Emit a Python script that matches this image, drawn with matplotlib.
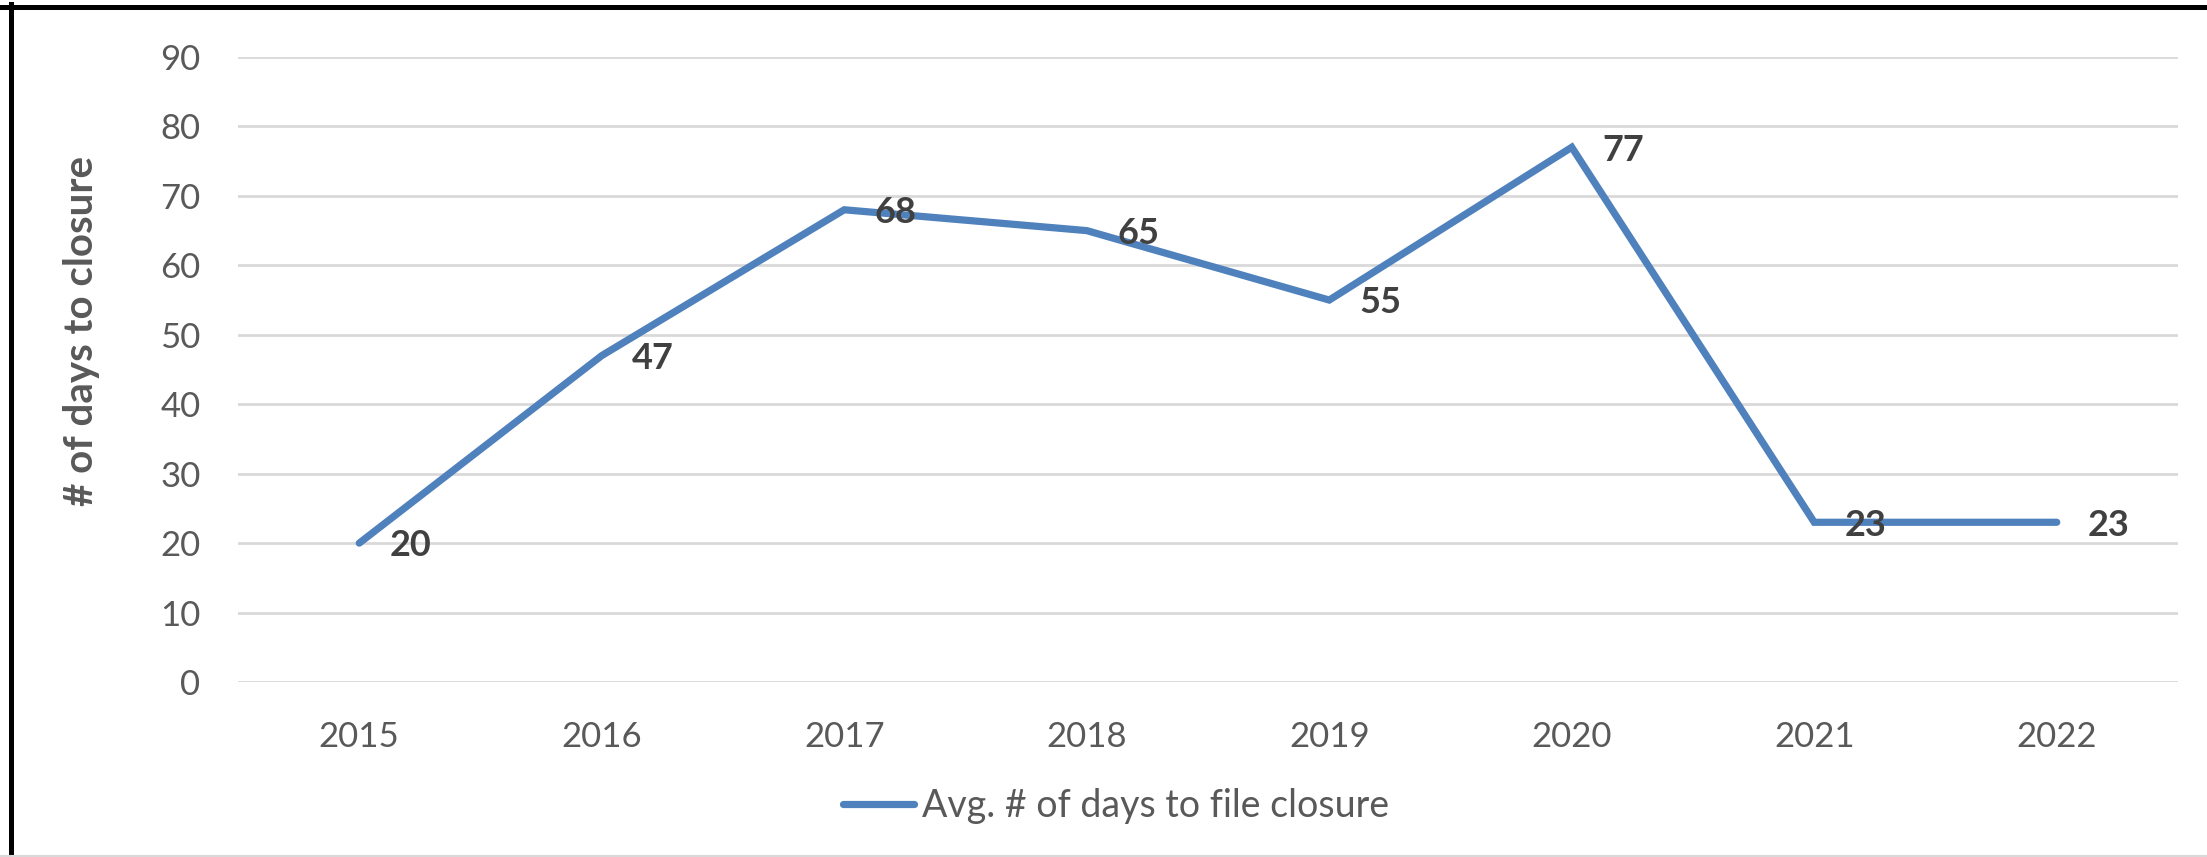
import matplotlib
matplotlib.use("Agg")
import matplotlib.pyplot as plt
from matplotlib.lines import Line2D

years = ["2015", "2016", "2017", "2018", "2019", "2020", "2021", "2022"]
avg_days = [20, 47, 68, 65, 55, 77, 23, 23]
y_ticks = [0, 10, 20, 30, 40, 50, 60, 70, 80, 90]
series_name = "Avg. # of days to file closure"
y_title = "# of days to closure"

W, H = 2207, 857
fig = plt.figure(figsize=(W / 100, H / 100), dpi=100)
FONT = ["Lato", "DejaVu Sans"]
plt.rcParams['font.family'] = FONT

ax = fig.add_axes([238 / W, (H - 682) / H, (2178 - 238) / W, (682 - 57) / H])
x = list(range(len(years)))
line_color = "#4F81BD"
ax.plot(x, avg_days, color=line_color, lw=5.2, solid_capstyle="round",
        solid_joinstyle="miter", zorder=3)

for xi, v in zip(x, avg_days):
    ax.annotate(str(v), (xi, v), xytext=(22, -2), textcoords="offset points",
                ha="left", va="center", fontsize=26, fontweight="bold",
                color="#404040", zorder=4)

ax.set_xlim(-0.5, len(years) - 0.5)
ax.set_ylim(0, 90)
ax.set_yticks(y_ticks)
ax.set_xticks(x)
ax.set_xticklabels(years)
ax.tick_params(axis="both", length=0, labelsize=25, labelcolor="#595959")
ax.tick_params(axis="y", pad=27)
ax.tick_params(axis="x", pad=28)
ax.grid(axis="y", color="#D9D9D9", lw=2)
ax.set_axisbelow(True)
for s in ax.spines.values():
    s.set_visible(False)

fig.text(82 / W, 1 - 331 / H, y_title, rotation=90, ha="center", va="center",
         fontsize=29, fontweight="bold", color="#595959")

handle = Line2D([], [], color=line_color, lw=5.2, solid_capstyle="round")
fig.legend([handle], [series_name], loc="center", bbox_to_anchor=(1116 / W, 1 - 806 / H),
           frameon=False, fontsize=27, labelcolor="#595959",
           handlelength=1.9, handletextpad=0.2)

# chart frame: dark top/left edges, light bottom edge
fig.add_artist(Line2D([0, 1], [1 - 6.5 / H, 1 - 6.5 / H], transform=fig.transFigure,
                      color="black", lw=3.6))
fig.add_artist(Line2D([10.5 / W, 10.5 / W], [0, 1 - 4 / H], transform=fig.transFigure,
                      color="black", lw=3.6))
fig.add_artist(Line2D([0, 1], [1.5 / H, 1.5 / H], transform=fig.transFigure,
                      color="#D9D9D9", lw=1.5))

fig.savefig("out.png", dpi=100, facecolor="white")
